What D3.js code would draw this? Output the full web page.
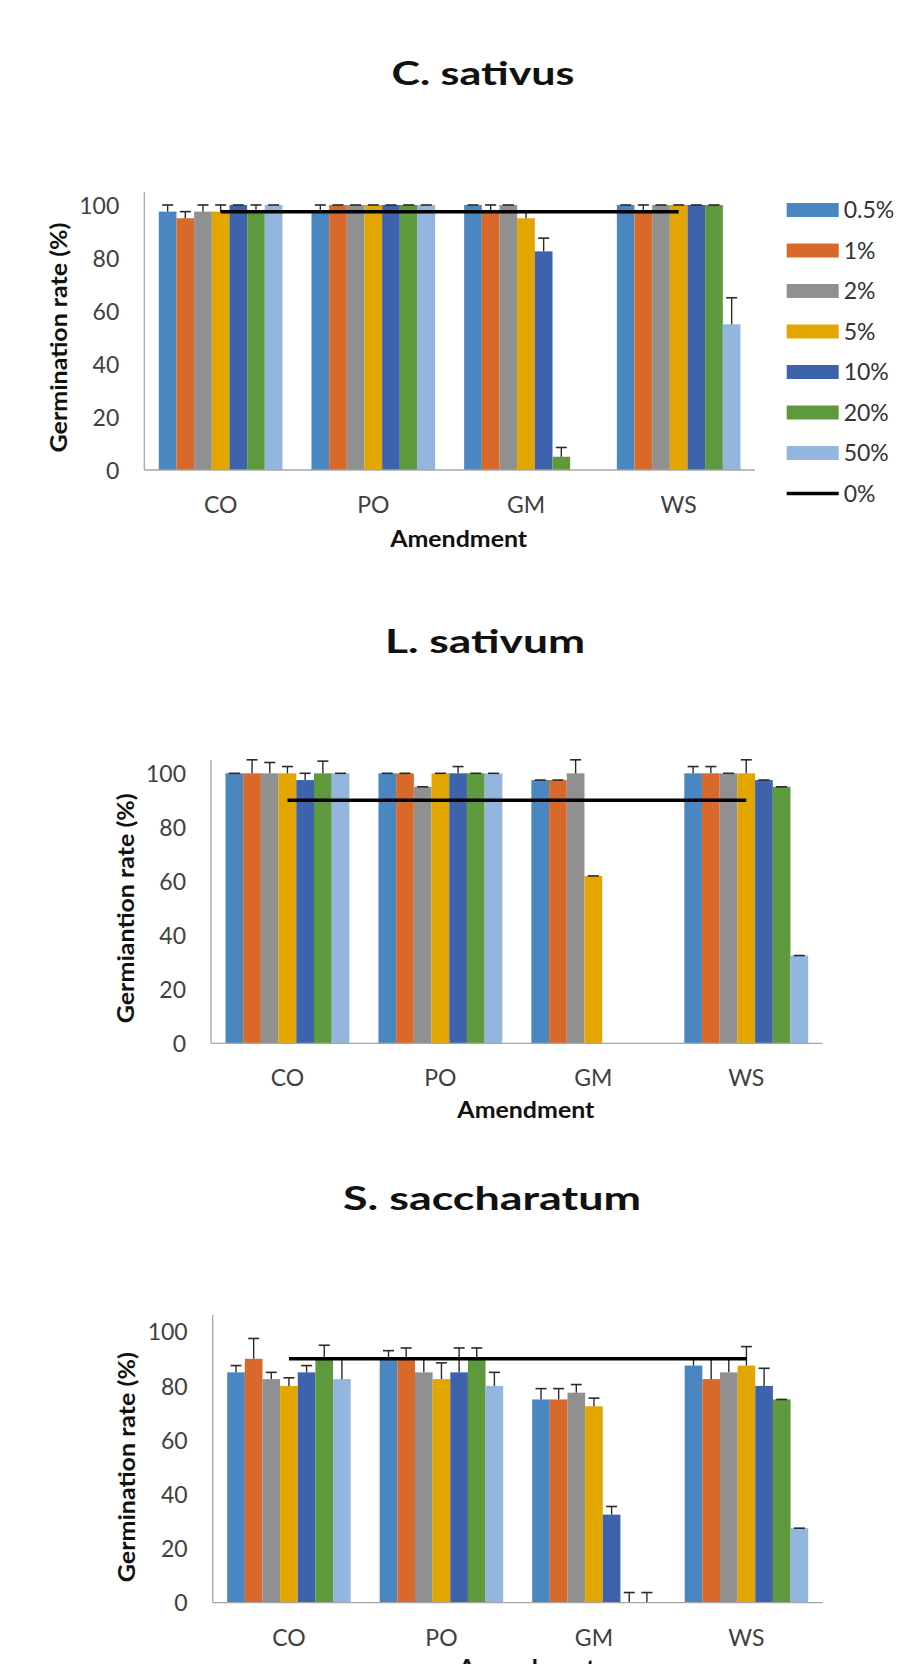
<!DOCTYPE html>
<html>
<head>
<meta charset="utf-8">
<script src="https://cdn.jsdelivr.net/npm/d3@7"></script>
<style>
  html, body { margin: 0; padding: 0; background: #ffffff; }
  svg { display: block; }
  text { font-family: Lato, "Open Sans", sans-serif; }
</style>
</head>
<body>
<svg id="chart" width="897" height="1664"></svg>
<script>
// ---------------- DATA ----------------
const categories = ["CO", "PO", "GM", "WS"];
const seriesNames = ["0.5%", "1%", "2%", "5%", "10%", "20%", "50%"];
const controlName = "0%";
const yTicks = [0, 20, 40, 60, 80, 100];

// C. sativus: values per amendment (one entry per series)
const cSativusValues = [
  [97.5, 95, 97.5, 97.5, 100, 97.5, 100],   // CO
  [97.5, 100, 100, 100, 100, 100, 100],     // PO
  [100, 97.5, 100, 95, 82.5, 5, 0],         // GM
  [100, 97.5, 100, 100, 100, 100, 55]       // WS
];
const cSativusErrors = [
  [2.5, 2.5, 2.5, 2.5, 0, 2.5, 0],
  [2.5, 0, 0, 0, 0, 0, 0],
  [0, 2.5, 0, 2.5, 5, 3.5, 0],
  [0, 2.5, 0, 0, 0, 0, 10]
];
const cSativusControl = 97.5;

// L. sativum
const lSativumValues = [
  [100, 100, 100, 100, 97.5, 100, 100],
  [100, 100, 95, 100, 100, 100, 100],
  [97.5, 97.5, 100, 62, 0, 0, 0],
  [100, 100, 100, 100, 97.5, 95, 32.5]
];
const lSativumErrors = [
  [0, 5, 4, 2.5, 2.5, 4.5, 0],
  [0, 0, 0, 0, 2.5, 0, 0],
  [0, 0, 5, 0, 0, 0, 0],
  [2.5, 2.5, 0, 5, 0, 0, 0]
];
const lSativumControl = 90;

// S. saccharatum
const sSaccharatumValues = [
  [85, 90, 82.5, 80, 85, 90, 82.5],
  [90, 90, 85, 82.5, 85, 90, 80],
  [75, 75, 77.5, 72.5, 32.5, 0, 0],
  [87.5, 82.5, 85, 87.5, 80, 75, 27.5]
];
const sSaccharatumErrors = [
  [2.5, 7.5, 2.5, 3, 2.5, 5, 7.5],
  [3, 4, 5, 6, 9, 4, 5],
  [4, 4, 3, 3, 3, 3.75, 3.75],
  [2.5, 7.5, 5, 7, 6.5, 0, 0]
];
const sSaccharatumControl = 90;

const titles = ["C. sativus", "L. sativum", "S. saccharatum"];
const yTitles = ["Germination rate (%)", "Germiantion rate (%)", "Germination rate (%)"];
const xTitle = "Amendment";

// ---------------- STYLE ----------------
const colors = ["#4A86C0", "#D9692A", "#909090", "#E3A600", "#3C63AC", "#5E9A3D", "#93B6DE"];

// ---------------- LAYOUT ----------------
const panels = [
  { title: titles[0], yTitle: yTitles[0], values: cSativusValues, errors: cSativusErrors, control: cSativusControl,
    titleX: 483, titleY: 85, titleLen: 183,
    x0: 144.3, x1: 755, yZero: 470, yMax: 205, yTop: 192,
    yTitleX: 67, amendY: 547, legend: true },
  { title: titles[1], yTitle: yTitles[1], values: lSativumValues, errors: lSativumErrors, control: lSativumControl,
    titleX: 485, titleY: 653, titleLen: 200,
    x0: 211, x1: 822.7, yZero: 1043.3, yMax: 773.3, yTop: 760,
    yTitleX: 133.5, amendY: 1118, legend: false },
  { title: titles[2], yTitle: yTitles[2], values: sSaccharatumValues, errors: sSaccharatumErrors, control: sSaccharatumControl,
    titleX: 492, titleY: 1210, titleLen: 298,
    x0: 212.7, x1: 822.7, yZero: 1602.7, yMax: 1331.7, yTop: 1315,
    yTitleX: 134.5, amendY: 1676, legend: false }
];

const svg = d3.select("#chart");
svg.append("rect").attr("width", 897).attr("height", 1664).attr("fill", "#fff");

panels.forEach(p => {
  const g = svg.append("g");

  const x = d3.scaleBand().domain(categories).range([p.x0, p.x1])
    .paddingInner(0.19).paddingOuter(0.095);
  const xs = d3.scaleBand().domain(seriesNames).range([0, x.bandwidth()]).padding(0);
  const y = d3.scaleLinear().domain([0, 100]).range([p.yZero, p.yMax]);

  // title
  g.append("text")
    .attr("x", p.titleX).attr("y", p.titleY)
    .attr("text-anchor", "middle")
    .attr("font-size", 32).attr("font-weight", 700).attr("fill", "#111")
    .attr("textLength", p.titleLen).attr("lengthAdjust", "spacingAndGlyphs")
    .text(p.title);

  // bars
  categories.forEach((c, ci) => {
    const cg = g.append("g").attr("transform", `translate(${x(c)},0)`);
    seriesNames.forEach((s, si) => {
      const v = p.values[ci][si];
      cg.append("rect")
        .attr("x", xs(s)).attr("width", xs.bandwidth())
        .attr("y", y(v)).attr("height", y(0) - y(v))
        .attr("fill", colors[si]);
    });
  });

  // error bars (plus direction)
  categories.forEach((c, ci) => {
    seriesNames.forEach((s, si) => {
      const v = p.values[ci][si];
      const e = p.errors[ci][si];
      if (v <= 0 && e <= 0) return;
      const cx = x(c) + xs(s) + xs.bandwidth() / 2;
      g.append("line")
        .attr("x1", cx).attr("x2", cx)
        .attr("y1", y(v)).attr("y2", y(v + e))
        .attr("stroke", "#2a2a2a").attr("stroke-width", 1.4);
      g.append("line")
        .attr("x1", cx - 5.5).attr("x2", cx + 5.5)
        .attr("y1", y(v + e)).attr("y2", y(v + e))
        .attr("stroke", "#2a2a2a").attr("stroke-width", 1.6);
    });
  });

  // axes lines
  g.append("line")
    .attr("x1", p.x0).attr("x2", p.x0).attr("y1", y(0)).attr("y2", p.yTop)
    .attr("stroke", "#a6a6a6").attr("stroke-width", 1.3);
  g.append("line")
    .attr("x1", p.x0).attr("x2", p.x1).attr("y1", y(0)).attr("y2", y(0))
    .attr("stroke", "#a6a6a6").attr("stroke-width", 1.3);

  // y tick labels via d3 axis
  const yAxis = d3.axisLeft(y).tickValues(yTicks).tickSize(0).tickPadding(25);
  const ya = g.append("g").attr("transform", `translate(${p.x0},0)`).call(yAxis);
  ya.select(".domain").remove();
  ya.selectAll("text")
    .attr("font-size", 23).attr("fill", "#404040")
    .attr("font-family", "Lato, 'Open Sans', sans-serif")
    .attr("dy", "0.36em");

  // x category labels via d3 axis
  const xAxis = d3.axisBottom(x).tickSize(0).tickPadding(0);
  const xa = g.append("g").attr("transform", `translate(0,${y(0)})`).call(xAxis);
  xa.select(".domain").remove();
  xa.selectAll("text")
    .attr("font-size", 23).attr("fill", "#404040")
    .attr("font-family", "Lato, 'Open Sans', sans-serif")
    .attr("y", 43).attr("dy", 0);

  // control line (0%)
  const line = d3.line().x(d => x(d) + x.bandwidth() / 2).y(() => y(p.control));
  g.append("path")
    .attr("d", line([categories[0], categories[categories.length - 1]]))
    .attr("stroke", "#000").attr("stroke-width", 3.5).attr("fill", "none");

  // y title
  const ymid = (y(0) + y(100)) / 2;
  g.append("text")
    .attr("transform", `translate(${p.yTitleX},${ymid}) rotate(-90)`)
    .attr("text-anchor", "middle")
    .attr("font-size", 22).attr("font-weight", 700).attr("fill", "#111")
    .attr("textLength", 230).attr("lengthAdjust", "spacingAndGlyphs")
    .text(p.yTitle);

  // x title
  g.append("text")
    .attr("x", (p.x0 + p.x1) / 2 + 9).attr("y", p.amendY)
    .attr("text-anchor", "middle")
    .attr("font-size", 22).attr("font-weight", 700).attr("fill", "#111")
    .attr("textLength", 137).attr("lengthAdjust", "spacingAndGlyphs")
    .text(xTitle);

  // legend
  if (p.legend) {
    const lg = g.append("g");
    const lx = 786.7, sw = 52, step = 40.5, ly0 = 210;
    seriesNames.forEach((s, i) => {
      const cy = ly0 + i * step;
      lg.append("rect").attr("x", lx).attr("y", cy - 7).attr("width", sw).attr("height", 14)
        .attr("fill", colors[i]);
      lg.append("text").attr("x", lx + 57).attr("y", cy + 8.3)
        .attr("font-size", 23).attr("fill", "#333").text(s);
    });
    const cy = ly0 + seriesNames.length * step;
    lg.append("line").attr("x1", lx).attr("x2", lx + sw).attr("y1", cy).attr("y2", cy)
      .attr("stroke", "#000").attr("stroke-width", 3.5);
    lg.append("text").attr("x", lx + 57).attr("y", cy + 8.3)
      .attr("font-size", 23).attr("fill", "#333").text(controlName);
  }
});
</script>
</body>
</html>
